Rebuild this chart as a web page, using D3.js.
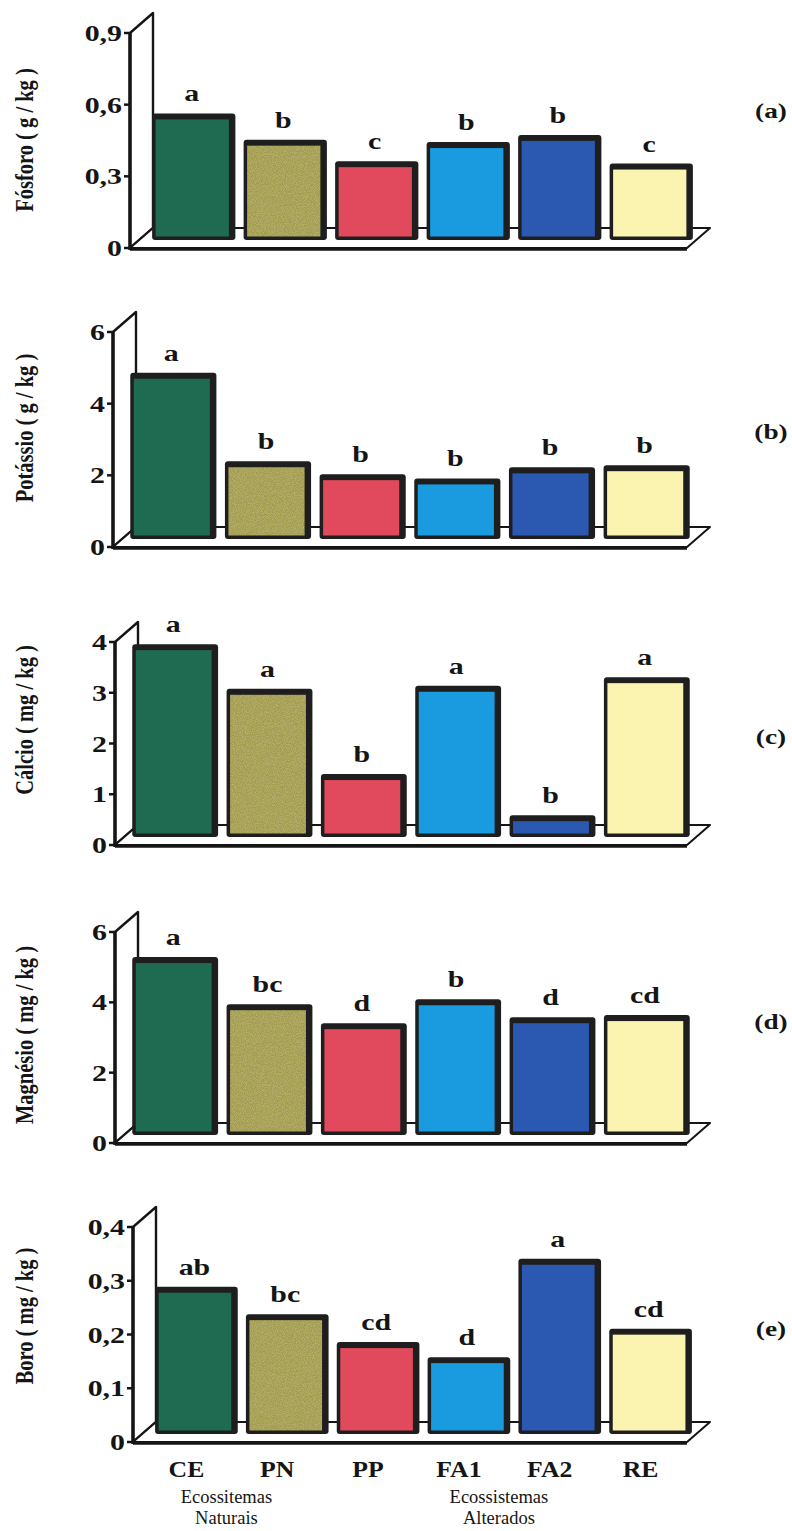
<!DOCTYPE html>
<html>
<head>
<meta charset="utf-8">
<script src="https://cdn.jsdelivr.net/npm/d3@7"></script>
<style>
  html, body { margin: 0; padding: 0; background: #fff; }
  svg text { font-family: "Liberation Serif", "Times New Roman", serif; }
</style>
</head>
<body>
<div id="chart"></div>
<script>
// categories (ecosystems)
const categories = ["CE", "PN", "PP", "FA1", "FA2", "RE"];
const barColors = ["#1e6b52", "#a39c4e", "#e04a5c", "#1a9be0", "#2b58b0", "#fbf3b0"];

// series values
const fosforo  = [0.53, 0.42, 0.33, 0.41, 0.44, 0.32];
const potassio = [4.64, 2.17, 1.81, 1.69, 2.00, 2.06];
const calcio   = [3.80, 2.92, 1.24, 2.98, 0.43, 3.15];
const magnesio = [5.06, 3.72, 3.18, 3.86, 3.35, 3.41];
const boro     = [0.274, 0.223, 0.171, 0.143, 0.326, 0.196];

// significance letters above the bars
const letFosforo  = ["a", "b", "c", "b", "b", "c"];
const letPotassio = ["a", "b", "b", "b", "b", "b"];
const letCalcio   = ["a", "a", "b", "a", "b", "a"];
const letMagnesio = ["a", "bc", "d", "b", "d", "cd"];
const letBoro     = ["ab", "bc", "cd", "d", "a", "cd"];

// axis ticks
const ticksFosforo  = [0, 0.3, 0.6, 0.9];
const ticksPotassio = [0, 2, 4, 6];
const ticksCalcio   = [0, 1, 2, 3, 4];
const ticksMagnesio = [0, 2, 4, 6];
const ticksBoro     = [0, 0.1, 0.2, 0.3, 0.4];

const groupLabels = [["Ecossitemas", "Naturais"], ["Ecossistemas", "Alterados"]];

const W = 792, H = 1531;
const DX = 23, DY = -20;      // depth of the 3D floor / wall
const BAR_LIFT = 8;           // bars stand a little behind the front edge
const FLOOR_RIGHT = 687;
const STRETCH = 1.3;          // the scanned type is a bit wide

const ptBR = d3.formatLocale({ decimal: ",", thousands: ".", grouping: [3], currency: ["R$", ""] });
const fmt1 = ptBR.format(".1f");
const tickFmt = v => v === 0 ? "0" : (Number.isInteger(v) ? String(v) : fmt1(v));

const panels = [
  { values: fosforo,  letters: letFosforo,  ticks: ticksFosforo,  title: "Fósforo ( g / kg )",   tag: "(a)", axisX: 130, y0: 248,  yTop: 33,   bandX: 148, bandW: 549, titleY: 140,  tagY: 118 },
  { values: potassio, letters: letPotassio, ticks: ticksPotassio, title: "Potássio ( g / kg )",  tag: "(b)", axisX: 113, y0: 547,  yTop: 332,  bandX: 126, bandW: 568, titleY: 428,  tagY: 439 },
  { values: calcio,   letters: letCalcio,   ticks: ticksCalcio,   title: "Cálcio ( mg / kg )",   tag: "(c)", axisX: 115, y0: 845,  yTop: 642,  bandX: 128, bandW: 566, titleY: 720,  tagY: 744 },
  { values: magnesio, letters: letMagnesio, ticks: ticksMagnesio, title: "Magnésio ( mg / kg )", tag: "(d)", axisX: 115, y0: 1143, yTop: 932,  bandX: 128, bandW: 566, titleY: 1035, tagY: 1029 },
  { values: boro,     letters: letBoro,     ticks: ticksBoro,     title: "Boro ( mg / kg )",     tag: "(e)", axisX: 133, y0: 1442, yTop: 1227, bandX: 151, bandW: 545, titleY: 1316, tagY: 1336 }
];

const svg = d3.select("#chart").append("svg")
  .attr("width", W).attr("height", H)
  .attr("viewBox", [0, 0, W, H]);

// speckled texture for the olive bar
const defs = svg.append("defs");
const speck = defs.append("filter").attr("id", "speck").attr("x", 0).attr("y", 0).attr("width", 1).attr("height", 1);
speck.append("feTurbulence").attr("type", "fractalNoise").attr("baseFrequency", 1.1).attr("numOctaves", 1).attr("seed", 3).attr("result", "noise");
speck.append("feColorMatrix").attr("in", "noise").attr("type", "matrix")
  .attr("values", "0 0 0 0 0.45  0 0 0 0 0.42  0 0 0 0 0.15  0 0 0 -4 2.4").attr("result", "dots");
speck.append("feComposite").attr("in", "dots").attr("in2", "SourceGraphic").attr("operator", "atop");

const ink = "#151515";

// wide bold label at (x, y)
function wideText(sel, x, y, txt, size, anchor, sx) {
  return sel.append("text")
    .attr("transform", `translate(${x},${y}) scale(${sx || STRETCH},1)`)
    .attr("text-anchor", anchor || "middle")
    .attr("font-size", size).attr("font-weight", "bold")
    .attr("fill", ink)
    .text(txt);
}

panels.forEach(p => {
  const g = svg.append("g");
  const maxV = p.ticks[p.ticks.length - 1];

  const yFront = d3.scaleLinear().domain([0, maxV]).range([p.y0, p.yTop]);
  const yBar = d3.scaleLinear().domain([0, maxV]).range([p.y0 - BAR_LIFT, p.yTop - BAR_LIFT]);
  const x = d3.scaleBand().domain(categories).range([p.bandX, p.bandX + p.bandW]).paddingInner(0.09).paddingOuter(0.045);

  // left wall
  g.append("path")
    .attr("d", `M${p.axisX},${p.y0} L${p.axisX},${p.yTop} L${p.axisX + DX},${p.yTop + DY} L${p.axisX + DX},${p.y0 + DY} Z`)
    .attr("fill", "#fff").attr("stroke", ink).attr("stroke-width", 2.4).attr("stroke-linejoin", "round");

  // floor
  g.append("path")
    .attr("d", `M${p.axisX},${p.y0} L${FLOOR_RIGHT},${p.y0} L${FLOOR_RIGHT + DX},${p.y0 + DY} L${p.axisX + DX},${p.y0 + DY} Z`)
    .attr("fill", "#fff").attr("stroke", ink).attr("stroke-width", 2).attr("stroke-linejoin", "round");
  g.append("line")
    .attr("x1", p.axisX).attr("x2", FLOOR_RIGHT)
    .attr("y1", p.y0 + 1).attr("y2", p.y0 + 1)
    .attr("stroke", ink).attr("stroke-width", 3.5);

  // front axis
  g.append("line")
    .attr("x1", p.axisX).attr("x2", p.axisX)
    .attr("y1", p.y0 + 2).attr("y2", p.yTop)
    .attr("stroke", ink).attr("stroke-width", 3.5);

  const ax = g.append("g").selectAll("g").data(p.ticks).join("g")
    .attr("transform", d => `translate(0,${yFront(d)})`);
  ax.append("line")
    .attr("x1", p.axisX - 6).attr("x2", p.axisX)
    .attr("stroke", ink).attr("stroke-width", 2.5);
  ax.each(function (d) {
    wideText(d3.select(this), p.axisX - 8, 8, tickFmt(d), 23, "end");
  });

  // bars: dark frame, then the coloured face
  const bars = g.append("g").selectAll("g").data(p.values).join("g");
  bars.append("rect")
    .attr("x", (d, i) => x(categories[i]))
    .attr("y", d => yBar(d))
    .attr("width", x.bandwidth())
    .attr("height", d => yBar(0) - yBar(d))
    .attr("rx", 3)
    .attr("fill", "#1e1e1e");
  bars.append("rect")
    .attr("x", (d, i) => x(categories[i]) + 3.5)
    .attr("y", d => yBar(d) + 6)
    .attr("width", x.bandwidth() - 10)
    .attr("height", d => Math.max(0, yBar(0) - yBar(d) - 9.5))
    .attr("fill", (d, i) => barColors[i])
    .attr("filter", (d, i) => i === 1 ? "url(#speck)" : null);

  bars.each(function (d, i) {
    wideText(d3.select(this), x(categories[i]) + x.bandwidth() / 2 - 2, yBar(d) - 12, p.letters[i], 23);
  });

  // y title
  g.append("text")
    .attr("transform", `translate(33,${p.titleY}) rotate(-90) scale(1,1.25)`)
    .attr("text-anchor", "middle")
    .attr("font-size", 20.5).attr("font-weight", "bold")
    .attr("fill", ink)
    .text(p.title);

  // panel tag
  wideText(g, 771, p.tagY, p.tag, 21);

  // category labels under the last panel
  if (p === panels[panels.length - 1]) {
    g.append("g").selectAll("g").data(categories).join("g")
      .each(function (d) {
        wideText(d3.select(this), x(d) + x.bandwidth() / 2 - 10, 1477, d, 23, "middle", 1.12);
      });

    const gx = [x("CE") + x.bandwidth() / 2 + 30, x("FA1") + x.bandwidth() / 2 + 30];
    groupLabels.forEach((lines, k) => {
      g.append("text")
        .attr("x", gx[k]).attr("y", 1503)
        .attr("text-anchor", "middle")
        .attr("font-size", 18.5)
        .attr("fill", ink)
        .selectAll("tspan").data(lines).join("tspan")
        .attr("x", gx[k])
        .attr("dy", (d, j) => j === 0 ? 0 : 21)
        .text(d => d);
    });
  }
});
</script>
</body>
</html>
